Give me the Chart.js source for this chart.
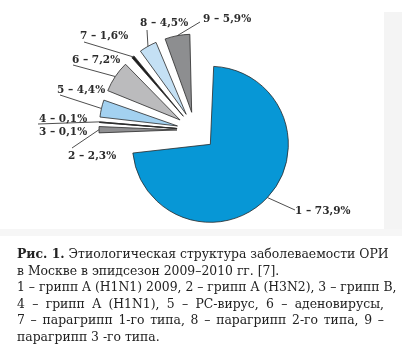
<!DOCTYPE html>
<html>
<head>
<meta charset="utf-8">
<script src="https://cdn.jsdelivr.net/npm/chart.js@4/dist/chart.umd.min.js"></script>
<style>
    html, body { margin: 0; padding: 0; background: #fff; }
    #wrap { position: relative; width: 402px; height: 354px; overflow: hidden; }
    #shadeR { position: absolute; left: 384px; top: 12px; width: 18px; height: 224px; background: #f4f4f4; }
    #shadeB { position: absolute; left: 0; top: 229px; width: 402px; height: 7px; background: #f6f6f6; }
    #chart { position: absolute; left: 0; top: 0; }
    #caption {
        position: absolute; left: 17px; top: 246px; width: 367px;
        font-family: "DejaVu Serif", serif; font-size: 12.4px; line-height: 16.6px; color: #222;
    }
    #caption .j { text-align: justify; text-align-last: justify; white-space: nowrap; }
    #caption div { white-space: nowrap; }
</style>
</head>
<body>
<div id="wrap">
    <div id="shadeR"></div>
    <div id="shadeB"></div>
    <canvas id="chart" width="402" height="354"></canvas>
    <div id="caption">
        <div class="j"><b>Рис. 1.</b> Этиологическая структура заболеваемости ОРИ</div>
        <div>в Москве в эпидсезон 2009–2010 гг. [7].</div>
        <div class="j">1 – грипп A (H1N1) 2009, 2 – грипп A (H3N2), 3 – грипп B,</div>
        <div class="j">4 – грипп A (H1N1), 5 – PC-вирус, 6 – аденовирусы,</div>
        <div class="j">7 – парагрипп 1-го типа, 8 – парагрипп 2-го типа, 9 –</div>
        <div>парагрипп 3 -го типа.</div>
    </div>
</div>
<script>
const categories = ["1", "2", "3", "4", "5", "6", "7", "8", "9"];
const shares = [73.9, 2.3, 0.1, 0.1, 4.4, 7.2, 1.6, 4.5, 5.9];
const shareLabels = ["73,9%", "2,3%", "0,1%", "0,1%", "4,4%", "7,2%", "1,6%", "4,5%", "5,9%"];

const sliceColors = ["#0797d6", "#8f8f91", "#1c1c1c", "#1c1c1c", "#a3d1f0", "#bbbbbd", "#1e1e1e", "#c4e0f4", "#8d8e90"];

const SLICE_RADIUS = 78;
const BLUE_PUSH = 21;   // px the big slice is pulled out
const SMALL_PUSH = 18;  // px every other slice is pulled out

// where each label text sits and where its leader line starts (null = no line)
const calloutLayout = [
    { text: [295, 211], from: [295, 210] },
    { text: [68, 156], from: [72, 148] },
    { text: [39, 132], from: null },
    { text: [39, 119], from: [38, 124] },
    { text: [57, 90], from: [60, 95] },
    { text: [72, 60], from: [73, 65] },
    { text: [80, 36], from: [84, 42] },
    { text: [140, 23], from: [147, 30] },
    { text: [203, 19], from: [200, 22] },
];

function arcFix(circ) {
    return 1 - Math.sin(Math.min(Math.PI, circ || 0));
}

// chart.js moves an arc by offset/4 and also grows it by offset/4*fix,
// so take that growth back off to keep every slice the same size
const evenRadius = {
    id: "evenRadius",
    afterDatasetUpdate(chart, args) {
        args.meta.data.forEach((arc) => {
            const push = (arc.options.offset || 0) / 4;
            arc.outerRadius = SLICE_RADIUS - push * arcFix(arc.circumference);
        });
    }
};

const calloutPlugin = {
    id: "callouts",
    afterDatasetsDraw(chart) {
        const ctx = chart.ctx;
        const meta = chart.getDatasetMeta(0);
        ctx.save();
        meta.data.forEach((arc, i) => {
            const p = arc.getProps(["x", "y", "startAngle", "endAngle", "outerRadius", "circumference"], true);
            const mid = (p.startAngle + p.endAngle) / 2;
            const push = (arc.options.offset || 0) / 4;
            const r = p.outerRadius + push * (1 + arcFix(p.circumference));
            const ax = p.x + Math.cos(mid) * r;
            const ay = p.y + Math.sin(mid) * r;
            const lay = calloutLayout[i];
            if (lay.from) {
                ctx.strokeStyle = "#3a3a3a";
                ctx.lineWidth = 0.9;
                ctx.beginPath();
                ctx.moveTo(lay.from[0], lay.from[1]);
                ctx.lineTo(ax, ay);
                ctx.stroke();
            }
            ctx.fillStyle = "#2b2b2b";
            ctx.textBaseline = "middle";
            ctx.textAlign = "left";
            ctx.font = "bold 10.5px 'DejaVu Serif', serif";
            ctx.fillText(categories[i] + " – " + shareLabels[i], lay.text[0], lay.text[1]);
        });
        ctx.restore();
    }
};

new Chart(document.getElementById("chart"), {
    type: "pie",
    data: {
        labels: categories,
        datasets: [{
            data: shares,
            backgroundColor: sliceColors,
            borderColor: "#2a2a2a",
            borderWidth: 0.8,
            offset: (c) => 4 * (c.dataIndex === 0 ? BLUE_PUSH : SMALL_PUSH),
        }]
    },
    options: {
        responsive: false,
        animation: false,
        radius: SLICE_RADIUS,
        layout: { padding: { left: 0, right: 12, top: 0, bottom: 94 } },
        plugins: {
            legend: { display: false },
            tooltip: { enabled: false },
        },
    },
    plugins: [evenRadius, calloutPlugin],
});
</script>
</body>
</html>
